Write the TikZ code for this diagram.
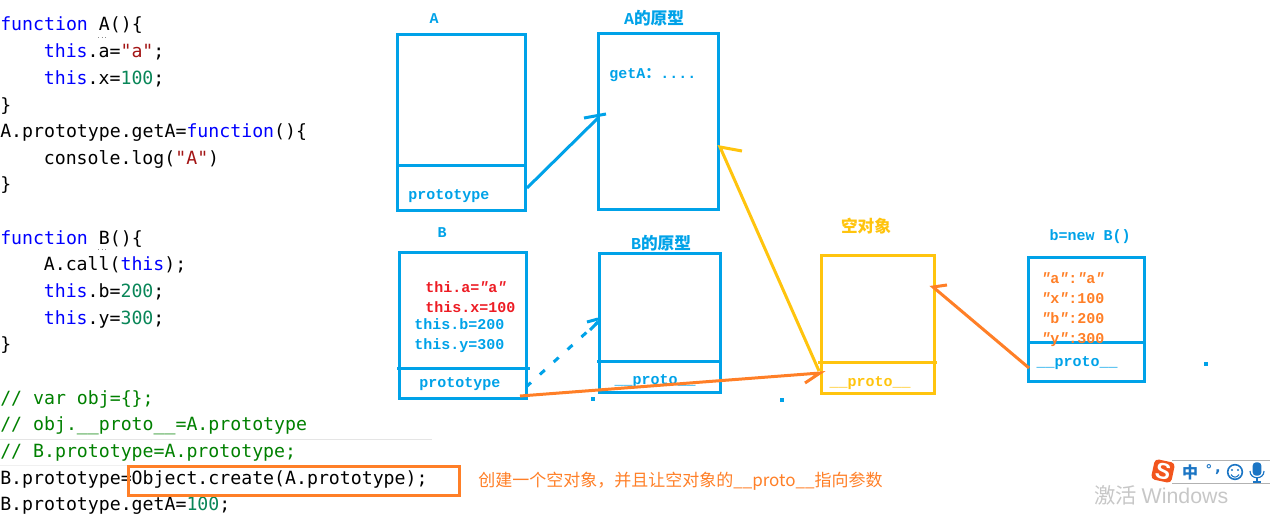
\documentclass[tikz,border=0pt]{standalone}
\usepackage{fontspec}
\setmainfont{Liberation Sans}
\newfontfamily\codefont{DejaVu Sans Mono}
\newfontfamily\boxfont{Liberation Mono}
\newfontfamily\cjkfont{Noto Sans CJK SC}
\definecolor{kwblue}{HTML}{0000FF}
\definecolor{strred}{HTML}{A31515}
\definecolor{numgreen}{HTML}{098658}
\definecolor{cmtgreen}{HTML}{008000}
\definecolor{skyb}{HTML}{00A2E8}
\definecolor{oran}{HTML}{FF7F27}
\definecolor{yell}{HTML}{FFC40E}
\definecolor{redt}{HTML}{ED1C24}
\definecolor{imeblue}{HTML}{1B75C4}
\definecolor{imeorange}{HTML}{F2551D}
\newcommand{\kw}[1]{\textcolor{kwblue}{#1}}
\newcommand{\str}[1]{\textcolor{strred}{#1}}
\newcommand{\num}[1]{\textcolor{numgreen}{#1}}
\newcommand{\dq}{{\itshape ″}}
\tikzset{
  x=0.75pt,y=-0.75pt,
  code/.style={anchor=base west,inner sep=0pt,font=\codefont\fontsize{13.65pt}{14pt}\selectfont,text=black},
  cmt/.style={code,text=cmtgreen},
  boxl/.style={anchor=base west,inner sep=0pt,font=\boxfont\bfseries\fontsize{11.25pt}{12pt}\selectfont},
  boxc/.style={anchor=center,inner sep=0pt,font=\boxfont\bfseries\fontsize{11.25pt}{12pt}\selectfont},
  cjkl/.style={anchor=center,inner sep=0pt,font=\cjkfont\bfseries\fontsize{12.5pt}{13pt}\selectfont},
  objbox/.style={draw=#1,line width=2.25pt,fill=none,inner sep=0pt,rectangle},
  arrowline/.style={draw=#1,line width=2.25pt},
  dotmark/.style={fill=skyb,draw=none,inner sep=0pt,minimum size=3pt,rectangle},
  imetext/.style={inner sep=0pt,text=imeblue},
}
\begin{document}
\begin{tikzpicture}
\useasboundingbox (0,0) rectangle (1270,514);
% code
\node[code] (l0) at (0,31) {\kw{function} A()\{};
\node[code] (l1) at (43.6,57.7) {\kw{this}.a=\str{"a"};};
\node[code] (l2) at (43.6,84.3) {\kw{this}.x=\num{100};};
\node[code] (l3) at (0,111) {\}};
\node[code] (l4) at (0,137.6) {A.prototype.getA=\kw{function}()\{};
\node[code] (l5) at (43.6,164.3) {console.log(\str{"A"})};
\node[code] (l6) at (0,190.9) {\}};
\node[code] (l8) at (0,244.2) {\kw{function} B()\{};
\node[code] (l9) at (43.6,270.9) {A.call(\kw{this});};
\node[code] (l10) at (43.6,297.5) {\kw{this}.b=\num{200};};
\node[code] (l11) at (43.6,324.2) {\kw{this}.y=\num{300};};
\node[code] (l12) at (0,350.8) {\}};
\node[cmt] (l14) at (0,404.1) {// var obj=\{\};};
\node[cmt] (l15) at (0,430.8) {// obj.\_\_proto\_\_=A.prototype};
\node[cmt] (l16) at (0,457.4) {// B.prototype=A.prototype;};
\node[code] (l17) at (0,484.1) {B.prototype=Object.create(A.prototype);};
\node[code] (l18) at (0,510.7) {B.prototype.getA=\num{100};};
\draw[black!45,line width=0.75pt,dotted] (98,37) -- (108,37);
\draw[black!45,line width=0.75pt,dotted] (98,249) -- (108,249);
\draw[black!10,line width=0.75pt] (0,439) -- (432,439);
\draw[black!6,line width=0.75pt] (0,465) -- (432,465);
% highlight
\node[objbox=oran,minimum width=248pt,minimum height=21.75pt] (hl) at (294,480.5) {};
\node[cjkl,text=oran,anchor=base west,font=\cjkfont\fontsize{12.75pt}{13pt}\selectfont] (cap) at (478,486) {创建一个空对象，并且让空对象的\_\_proto\_\_指向参数};
% boxes
\node[objbox=skyb,minimum width=96pt,minimum height=132pt] (A) at (461,122) {};
\draw[skyb,line width=2.25pt] (397,165) -- (525,165);
\node[objbox=skyb,minimum width=90pt,minimum height=132pt] (AP) at (658,121) {};
\node[objbox=skyb,minimum width=95.25pt,minimum height=109.5pt] (B) at (462.5,325) {};
\draw[skyb,line width=2.25pt] (397,368) -- (530,368);
\node[objbox=skyb,minimum width=90.75pt,minimum height=104.25pt] (BP) at (659.5,322.5) {};
\draw[skyb,line width=2.25pt] (597,361) -- (720,361);
\node[objbox=yell,minimum width=84.75pt,minimum height=103.5pt] (E) at (877.5,324) {};
\draw[yell,line width=2.25pt] (818,362) -- (937,362);
\node[objbox=skyb,minimum width=87pt,minimum height=93pt] (N) at (1086,319) {};
\draw[skyb,line width=2.25pt] (1028,342) -- (1144,342);
% labels
\node[boxc,text=skyb] (tA) at (434,19) {A};
\node[cjkl,text=skyb] (tAP) at (654,18) {{\boxfont\bfseries A}的原型};
\node[boxc,text=skyb] (tB) at (442,233) {B};
\node[cjkl,text=skyb] (tBP) at (661,243) {{\boxfont\bfseries B}的原型};
\node[cjkl,text=yell] (tE) at (866,226) {空对象};
\node[boxc,text=skyb] (tN) at (1090,237) {b=new B()};
\node[boxl,text=skyb] (getA) at (609,78) {getA{\cjkfont\bfseries ：}....};
\node[boxl,text=skyb] (pa) at (408,199) {prototype};
\node[boxl,text=skyb] (pb) at (419,387) {prototype};
\node[boxl,text=redt] (ta) at (425,292) {thi.a=\dq a\dq};
\node[boxl,text=redt] (tx) at (425,312) {this.x=100};
\node[boxl,text=skyb] (tb) at (414,329) {this.b=200};
\node[boxl,text=skyb] (ty) at (414,349) {this.y=300};
\node[boxc,text=skyb] (pbp) at (655,381) {\_\_proto\_\_};
\node[boxc,text=yell] (pe) at (870,383) {\_\_proto\_\_};
\node[boxc,text=skyb] (pn) at (1077,363) {\_\_proto\_\_};
\node[boxl,text=oran] (na) at (1041,283) {\dq a\dq:\dq a\dq};
\node[boxl,text=oran] (nx) at (1041,303) {\dq x\dq:100};
\node[boxl,text=oran] (nb) at (1041,323) {\dq b\dq:200};
\node[boxl,text=oran] (ny) at (1041,343) {\dq y\dq:300};
% connectors
\coordinate (a1) at (527,188); \coordinate (a2) at (598,118);
\draw[arrowline=skyb] (a1) -- (a2);
\draw[arrowline=skyb] (584,118) -- (606,114);
\coordinate (y1) at (819,371); \coordinate (y2) at (720,147);
\draw[arrowline=yell] (y1) -- (y2) -- (742,151);
\coordinate (d1) at (526,387); \coordinate (d2) at (598,322);
\draw[arrowline=skyb,dash pattern=on 5pt off 9pt] (d1) -- (d2);
\draw[arrowline=skyb] (587,322) -- (598,319);
\draw[arrowline=skyb] (590,330) -- (598,322);
\coordinate (o1) at (520,396); \coordinate (o2) at (820,373);
\draw[arrowline=oran] (o1) -- (o2) -- (805,383);
\coordinate (p1) at (1029,368); \coordinate (p2) at (933,287);
\draw[arrowline=oran] (p1) -- (p2) -- (947,285);
% stray dots
\node[dotmark] (s1) at (593,399) {};
\node[dotmark] (s2) at (782,400) {};
\node[dotmark] (s3) at (1206,364) {};
% watermark
\node[anchor=base west,inner sep=0pt,text=black!22,font=\cjkfont\fontsize{16pt}{17pt}\selectfont] (wm) at (1094,503) {激活 {\fontspec{Liberation Sans}Windows}};
% input-method toolbar
\draw[black!30,line width=0.75pt] (1172,460) -- (1270,460);
\draw[black!30,line width=0.75pt] (1172,483) -- (1270,483);
\node[rectangle,rounded corners=3pt,fill=imeorange,minimum size=15.5pt,inner sep=0pt,rotate=-12,text=white,font=\fontspec{Liberation Sans}\bfseries\fontsize{17pt}{17pt}\selectfont] (logo) at (1163,471) {S};
\node[imetext,font=\cjkfont\bfseries\fontsize{12pt}{13pt}\selectfont] (zh) at (1190,472) {中};
\node[imetext,font=\fontspec{DejaVu Sans}\bfseries\fontsize{10pt}{11pt}\selectfont] (pn1) at (1209,469) {°};
\node[imetext,font=\fontspec{DejaVu Sans}\bfseries\fontsize{11pt}{11pt}\selectfont] (pn2) at (1218,472) {,};
\node[circle,draw=imeblue,line width=1.2pt,minimum size=11pt,inner sep=0pt] (smile) at (1235,472) {};
\fill[imeblue] (1232,470) circle (1.1);
\fill[imeblue] (1238,470) circle (1.1);
\draw[imeblue,line width=0.8pt] (1231,474.5) .. controls (1233,478) and (1237,478) .. (1239,474.5);
\node[rectangle,rounded corners=2.5pt,fill=imeblue,minimum width=6.5pt,minimum height=10pt,inner sep=0pt] (mic) at (1257,469) {};
\draw[imeblue,line width=0.9pt] (1250,471) .. controls (1250,480) and (1264,480) .. (1264,471);
\draw[imeblue,line width=1pt] (1257,478) -- (1257,482);
\draw[imeblue,line width=1pt] (1253,482) -- (1261,482);
\end{tikzpicture}
\end{document}
